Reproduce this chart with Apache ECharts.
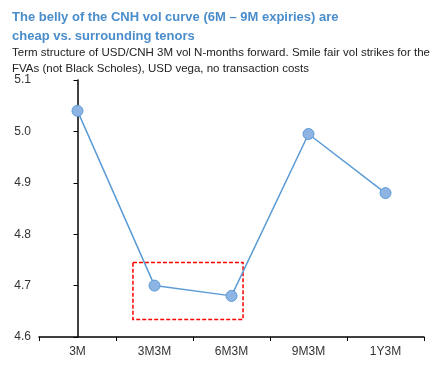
<!DOCTYPE html>
<html><head><meta charset="utf-8">
<script src="https://cdn.jsdelivr.net/npm/echarts@6/dist/echarts.min.js"></script>
<style>html,body{margin:0;padding:0;background:#fff}#c{width:440px;height:366px}</style>
</head><body><div id="c"></div>
<script>
const categories = ['3M', '3M3M', '6M3M', '9M3M', '1Y3M'];
const volValues = [5.04, 4.70, 4.68, 4.995, 4.88];
const yTicks = [4.6, 4.7, 4.8, 4.9, 5.0, 5.1];
const highlightX = [0.72, 2.15];
const highlightY = [4.634, 4.745];

const chart = echarts.init(document.getElementById('c'));
chart.setOption({
  animation: false,
  title: [{
    text: 'The belly of the CNH vol curve (6M – 9M expiries) are\ncheap vs. surrounding tenors',
    left: 7, top: 3,
    textStyle: {fontFamily: 'Liberation Sans, Arial', fontSize: 13, fontWeight: 'bold', color: '#4a8dcb', lineHeight: 19}
  }, {
    text: 'Term structure of USD/CNH 3M vol N-months forward. Smile fair vol strikes for the\nFVAs (not Black Scholes), USD vega, no transaction costs',
    left: 7, top: 40,
    textStyle: {fontFamily: 'Liberation Sans, Arial', fontSize: 11.5, fontWeight: 'normal', color: '#222', lineHeight: 16}
  }],
  grid: {left: 39, right: 16, top: 80, bottom: 29},
  xAxis: [{
    type: 'category', data: categories, boundaryGap: true,
    axisLine: {lineStyle: {color: '#000', width: 1.5}},
    axisTick: {show: true, length: 4, lineStyle: {color: '#000'}},
    axisLabel: {color: '#333', fontSize: 12, fontFamily: 'Liberation Sans, Arial', margin: 9}
  }, {
    type: 'value', min: -0.5, max: 4.5, show: false
  }],
  yAxis: {
    type: 'value', min: yTicks[0], max: yTicks[yTicks.length - 1], interval: 0.1,
    splitLine: {show: false},
    axisLine: {show: true, lineStyle: {color: '#000', width: 1.5}},
    axisTick: {show: true, length: 4, lineStyle: {color: '#000'}},
    axisLabel: {color: '#333', fontSize: 12, fontFamily: 'Liberation Sans, Arial', formatter: v => v.toFixed(1), margin: 8}
  },
  series: [{
    type: 'line', data: volValues,
    symbol: 'circle', symbolSize: 11,
    lineStyle: {color: '#5b9bd5', width: 1.5},
    itemStyle: {color: '#8db4e2', borderColor: '#5b9bd5', borderWidth: 1}
  }, {
    type: 'line', xAxisIndex: 1, data: [],
    markArea: {
      silent: true,
      itemStyle: {color: 'rgba(0,0,0,0)', borderColor: '#ff0000', borderWidth: 1.5, borderType: [4, 2]},
      data: [[{coord: [highlightX[0], highlightY[1]]}, {coord: [highlightX[1], highlightY[0]]}]]
    }
  }]
});
</script></body></html>
